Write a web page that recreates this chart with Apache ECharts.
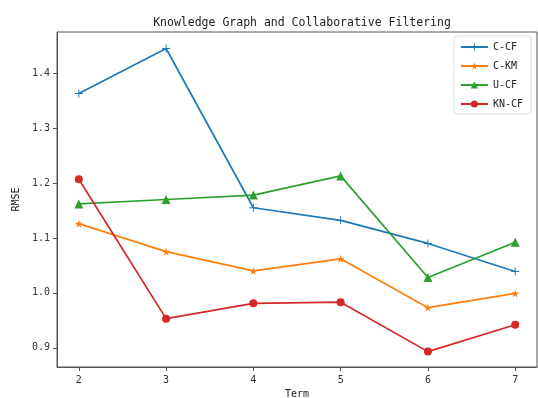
<!DOCTYPE html>
<html>
<head>
<meta charset="utf-8">
<script src="https://cdn.jsdelivr.net/npm/echarts@6/dist/echarts.min.js"></script>
<style>html,body{margin:0;padding:0;background:#fff;}#c{width:538px;height:398px;}</style>
</head>
<body>
<div id="c"></div>
<script>
const terms = [2, 3, 4, 5, 6, 7];
const cCF  = [1.363, 1.445, 1.155, 1.132, 1.090, 1.039];
const cKM  = [1.126, 1.075, 1.040, 1.062, 0.973, 0.999];
const uCF  = [1.162, 1.170, 1.178, 1.213, 1.028, 1.092];
const knCF = [1.207, 0.953, 0.981, 0.983, 0.893, 0.942];
const yTicks = [0.9, 1.0, 1.1, 1.2, 1.3, 1.4];
const seriesNames = ['C-CF', 'C-KM', 'U-CF', 'KN-CF'];

const FONT = '"DejaVu Sans Mono", "Liberation Mono", monospace';
const plusPath = 'path://M4.4,0 H5.6 V4.4 H10 V5.6 H5.6 V10 H4.4 V5.6 H0 V4.4 H4.4 Z';
const starPath = 'path://M50,0 L61.8,35.1 L98.1,35.1 L68.8,56.9 L79.4,90.5 L50,69.1 L20.6,90.5 L31.2,56.9 L1.9,35.1 L38.2,35.1 Z';

function pts(arr){ return terms.map((t,i)=>[t, arr[i]]); }

const chart = echarts.init(document.getElementById('c'), null, {renderer:'canvas'});
const mk = (name, data, color, symbol, size) => ({
  name, type:'line', data: pts(data), symbol, symbolSize: size,
  lineStyle:{color, width:1.7}, itemStyle:{color}, color,
  showAllSymbol:true, animation:false
});
chart.setOption({
  animation:false,
  backgroundColor:'#fff',
  title:{
    text:'Knowledge Graph and Collaborative Filtering',
    left:297, top:12, textAlign:'center',
    textStyle:{fontFamily:FONT, fontSize:11.5, fontWeight:'normal', color:'#222'}
  },
  grid:{left:57, right:1, top:32, bottom:31, show:true, borderColor:'#555', borderWidth:1,
        backgroundColor:'transparent', containLabel:false, outerBoundsMode:'none'},
  legend:{
    data: seriesNames,
    orient:'vertical', right:7, top:36,
    itemWidth:27, itemHeight:9, itemGap:9,
    padding:[6,8,5,6],
    borderColor:'#ddd', borderWidth:1, borderRadius:3, backgroundColor:'#fff',
    textStyle:{fontFamily:FONT, fontSize:10, color:'#222'}
  },
  xAxis:{
    type:'value', min:1.75, max:7.25,
    name:'Term', nameLocation:'middle', nameGap:21,
    nameTextStyle:{fontFamily:FONT, fontSize:10, color:'#222'},
    axisLine:{show:true, lineStyle:{color:'#555'}},
    axisTick:{show:true, length:4, customValues:terms, lineStyle:{color:'#555'}},
    axisLabel:{customValues:terms, margin:8, fontFamily:FONT, fontSize:10, color:'#333'},
    splitLine:{show:false}
  },
  yAxis:{
    type:'value', min:0.865, max:1.475,
    name:'RMSE', nameLocation:'middle', nameGap:29,
    nameTextStyle:{fontFamily:FONT, fontSize:10, color:'#222'},
    axisLine:{show:true, lineStyle:{color:'#555'}},
    axisTick:{show:true, length:4, customValues:yTicks, lineStyle:{color:'#555'}},
    axisLabel:{customValues:yTicks, margin:7, fontFamily:FONT, fontSize:10, color:'#333',
      formatter:(v)=>v.toFixed(1)},
    splitLine:{show:false}
  },
  series:[
    mk('C-CF', cCF, '#1f77b4', plusPath, 8),
    mk('C-KM', cKM, '#ff7f0e', starPath, 8),
    mk('U-CF', uCF, '#2ca02c', 'triangle', 9),
    mk('KN-CF', knCF, '#d62728', 'circle', 8)
  ]
});
</script>
</body>
</html>
